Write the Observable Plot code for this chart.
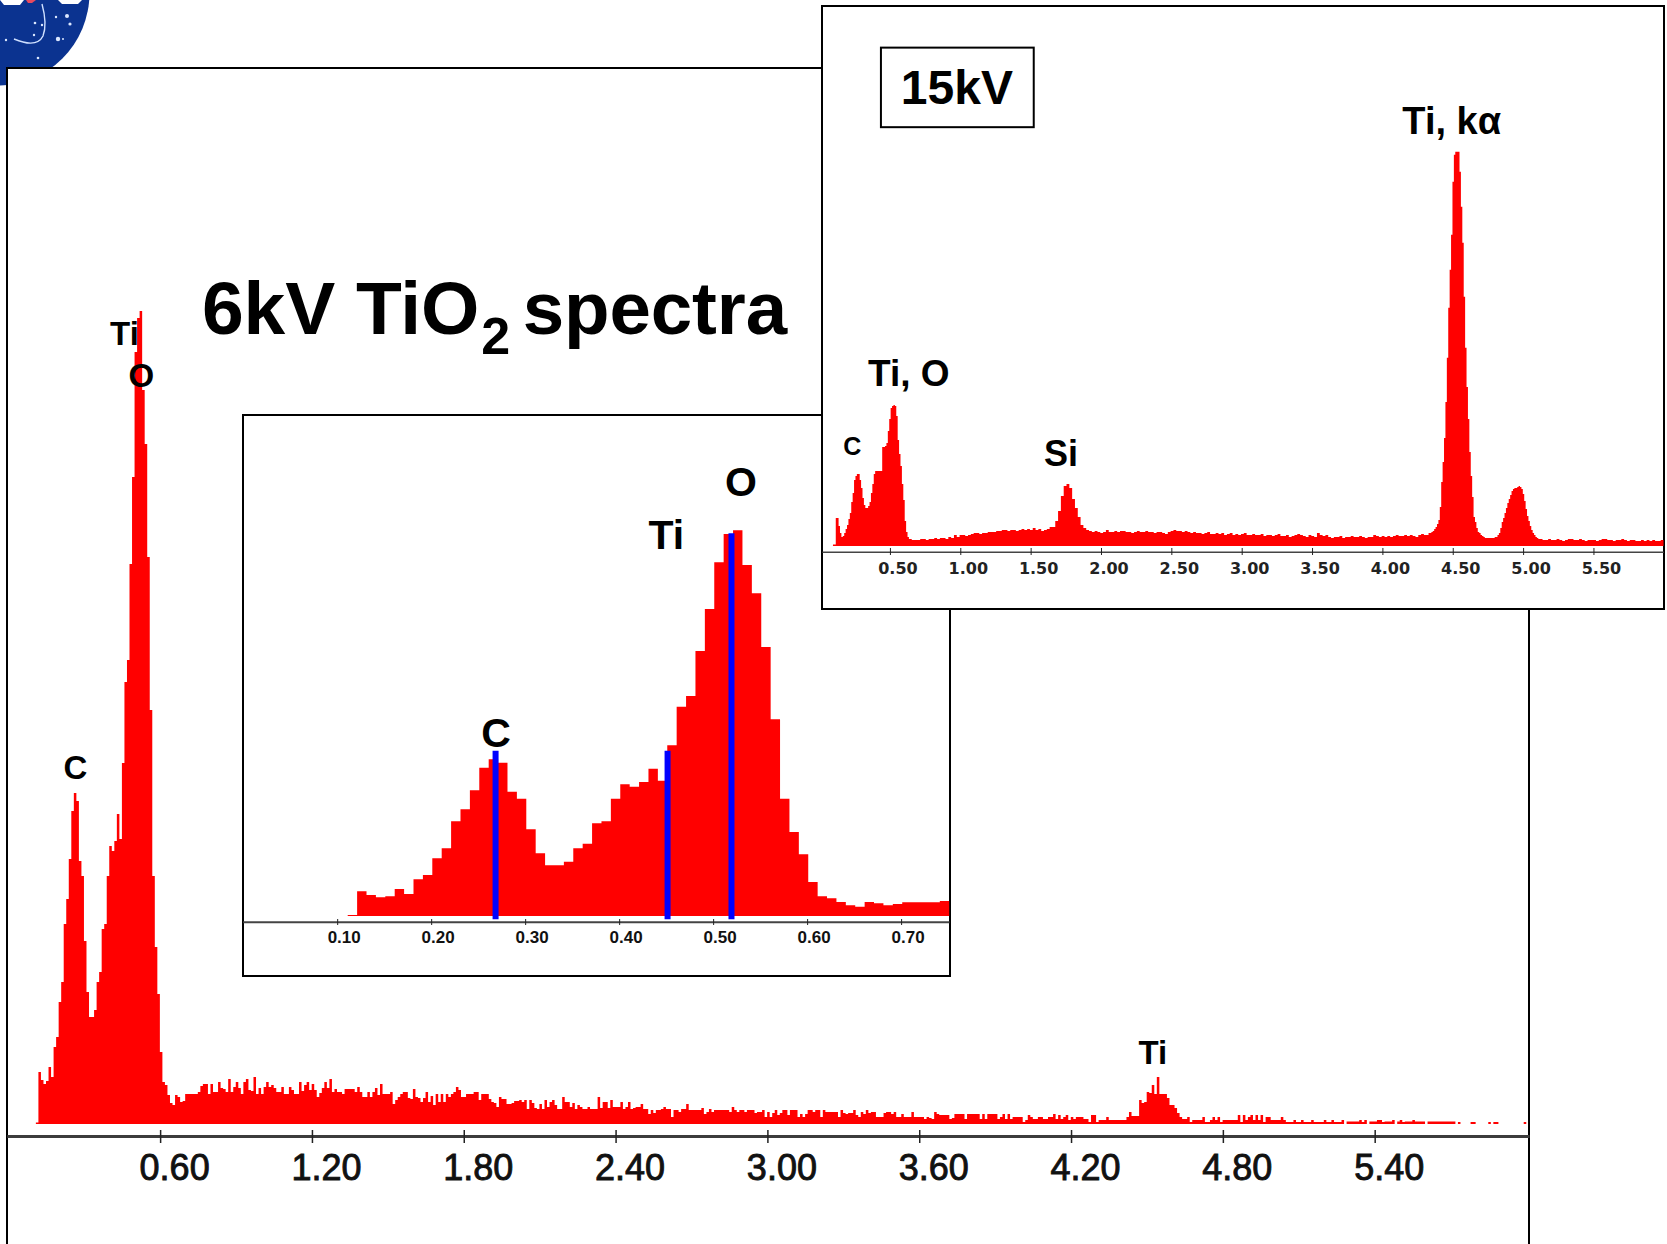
<!DOCTYPE html>
<html>
<head>
<meta charset="utf-8">
<script src="https://cdn.jsdelivr.net/npm/d3@7"></script>
<script src="https://cdn.jsdelivr.net/npm/@observablehq/plot@0.6"></script>
<style>
html,body{margin:0;padding:0;background:#fff;overflow:hidden;width:1667px;height:1244px;font-family:"Liberation Sans",Arial,sans-serif}
.abs{position:absolute;box-sizing:border-box}
svg{position:absolute}
#title{position:absolute;left:202px;top:271px;font:bold 75px/1 "Liberation Sans",sans-serif;color:#000;white-space:pre;letter-spacing:-0.1px}
#title sub{font-size:52px;line-height:0;vertical-align:-20px;margin-left:2px}
#title span{margin-left:-8px;font-size:74.5px}
.mainplot [aria-label="x-axis tick label"] text{stroke:#111;stroke-width:0.9px}
</style>
</head>
<body>
<svg id="logo" width="100" height="95" style="left:0;top:0">
  <circle cx="-3" cy="-7" r="92.5" fill="#0b3390"/>
  <path d="M0 0H24L20 5H4Z M58 0H82L78 4H62Z" fill="#fff"/>
  <path d="M26 0H36L32 3H28Z" fill="#e84a5f"/>
  <path d="M14 39C26 44 38 46 43 36C46 28 45 15 42 4" fill="none" stroke="#cfe0ff" stroke-width="1.4"/>
  <g fill="#dce8ff"><circle cx="67" cy="16" r="2"/><circle cx="70" cy="24" r="1.6"/><circle cx="58" cy="39" r="2.2"/><circle cx="35" cy="23" r="1.3"/><circle cx="42" cy="25" r="1.2"/><circle cx="56" cy="17" r="1.2"/><circle cx="34" cy="35" r="1.2"/><circle cx="38" cy="58" r="1.3"/><circle cx="6" cy="40" r="1.2"/><circle cx="63" cy="39" r="1"/></g>
</svg>
<div id="title"></div>
<script>
// ---------- 6 kV spectrum: counts per 10 eV channel ----------
const mainStartKeV = 0.109, mainChannelKeV = 0.01;
const mainPeaks = [1.5,52,44,40,43,57,47,77,87,122,142,200,225,265,313,331,323,263,248,183,132,107,107,114,142,152,195,200,248,278,273,283,310,285,361,442,464,560,647,772,806,813,734,680,567,414,248,177,130,72,42,39,29,21,19,29,27,22,23,30];
const mainBackgroundA = [30,30,30,30,32,38,40,40,30,40,32,32,42,36,35,32,45,32,37,42,36,30,42,45,34,33,47,30,36,30,37,42,37,39,36,32,32,37,30,30,37,34,30,30,42,33,39,42,34,40,34,27,31,36,42,36,45,32,35,32,32,30,35,35,35,35,32,37,32,27,27,32,27,32,36,29,40,30,30,30,32,20,24,27,30,32,32,26,25,35,27,26,22,26,32,22,28,19,30,22,30,22,30,27,30,32,37,34,27,27,30,30,30,32,32,24,30,30,30,25,22,21,17,27,25,25,20,20,21,23,23,24,22,24,15,24,21,16,15,20,15,24,17,22,24,19,15,15,27,22,22,17,21,15,19,17,15,15,17,15,15,15,27,16,22,22,16,24,17,17,17,22,15,17,22,15,16,17,17,20,15,15,10,14,11,14,14];
const mainBackgroundB = [15,17,15,15,7,14,14,12,15,15,20,14,14,14,14,14,16,10,12,15,12,14,14,14,14,14,14,12,17,14,12,14,14,12,14,14,14,11,12,12,14,7,12,7,11,14,9,11,14,14,9,14,14,14,7,10,7,10,14,14,12,14,14,7,14,12,12,12,12,12,7,14,11,10,11,11,14,9,7,12,10,14,11,12,12,7,7,7,11,12,12,10,12,7,7,10,7,7,7,12,7,7,7,7,5,7,6,5,12,10,9,9,9,9,5,6,10,10,10,10,5,10,10,10,10,10,5,10,5,10,10,10,10,5,7,10,5,10,5,7,7,7,7,2,4,9,7,5,5,7,7,5,5,7,7,10,5,9,5,7,9,4,7,5,7,7,7,5,5,2,9,9,2,4,4,4,7,4,4,4,4,4,4,4,7,12,8,8,8,24,21,22,32,31,39,30,47];
const mainTiTail = [30,30,30,26,19,19,16,11,7,5,5,7,2,4,4,4,4,7,2,2,4,7,4,7,2,4,4,4,4,4,4,9,2,9,4,7,9,4,9,4,9,2,7,7,4,4,4,4,7,4,2,2,2,4,2,2,4,2,2,2,4,2,2,2,2,4,2,2,4,2,2,2,4,0,2.5,2.5,2.5,2.5,2.5,4,2,4,0,2.5,2.5,2.5,4,4,2,2.5,2.5,2.5,4,0,2.5,4,2,2.5,2.5,2.5,4,2.5,2.5,2.5,2.5,0,2.5,2.5,2.5,2.5,2.5,2.5,2.5,2.5,2.5,2.5,2.5,0,2,0,0,0,0,2,2,0,0,0,0,0,2,0,2,2,0,0,0,0,0,0,0,0,0,0,2,0];
const mainTicks = [0.6,1.2,1.8,2.4,3.0,3.6,4.2,4.8,5.4];

// ---------- inset: O/Ti/C region at 10 eV per bar ----------
const insetStartKeV = 0.1112, insetChannelKeV = 0.01;
const insetCounts = [1,24.7,21,18.7,19.7,27,22,36.7,41,57.7,67.7,94.7,106.7,125.7,148.3,156.7,153.3,124.3,117.3,86.7,62.7,50.7,50.7,54.3,67.7,72.3,92.7,94.7,117.3,131.7,129.3,134,147.3,135.3,170.7,209.3,220,265,307,353.7,382,385.7,351,322.7,269,196.7,117.3,84,61.7,34,19.7,17.7,14,10.7,9.3,14,12.7,10.7,12,13.7,13.7,13.7,13.7,15,15];
const insetTicks = [0.1,0.2,0.3,0.4,0.5,0.6,0.7];
const insetLineKeV = [0.268,0.451,0.519];
const insetLineTop = [165.3,165.3,382.7];

// ---------- 15 kV spectrum ----------
const kv15LowStart = 0.095, kv15LowStep = 0.01;
const kv15Low = [1.5,1.5,28,28,20,13,9,10,13,17,21,27,33,44,53,66,70,72,72,66,58,48,41,38,38,40,44,53,62,72,75,75,75,75,75,99,99,100,103,115,127,138,140,141,140,130,106,92,80,62,46,25,14,9,7,7,6,6,6,6,6,6];
const kv15MidStart = 0.715, kv15MidStep = 0.02;
const kv15Mid = [7,7,6,7,7,8,7,8,8,7, 9,8,11,9,11,11,10,11,12,13, 13,12,13,13,14,14,14,15,15,16, 16,15,16,16,15,16,17,16,17,16,
 18,16,17,15,16,17,19,19,25,35,50,60,62,58,47,38,29,21,18,16,
 15,14,15,14,13,14,16,14,14,15,14,15,15,14,14,13,14,15,14,14,
 15,14,14,13,14,14,13,12,14,15,16,15,15,14,15,14,13,14,13,13,
 12,13,14,12,12,13,12,13,11,12,13,11,12,11,12,13,11,11,12,11,
 11,12,10,11,11,10,11,12,10,10,11,9,10,11,12,11,10,9,11,10,
 9,13,11,10,11,9,8,9,9,10,8,9,9,10,9,9,10,9,8,9,
 9,11,10,9,10,9,10,9,10,11,10,10,11,10,11,10,9,11,12,11];
const kv15PeakStart = 4.318, kv15PeakStep = 0.01;
const kv15Peak = [11,13,13,14,15,17,19,22,26,39,64,84,108,144,188,238,276,311,364,391,394,394,394,374,339,303,249,198,159,127,94,70,49,29,24,18,14,13,11,10,9,8,8,8,8,8,8,8,9,9,11,13,18,24,28,33,38,43,47,51,55,57,58,58,59,60,59,57,52,45,37,30,25,20,16,13,11,9,8,7];
const kv15HighStart = 5.118, kv15HighStep = 0.02;
const kv15High = [7,6,6,7,6,6,7,6,5,6,7,7,6,6,7,6,5,6,6,6,5,6,7,7,6,6,5,6,6,7,6,5,6,6,5,5,6,5,6,5,6,5,5,6,6];
const kv15Ticks = [0.5,1,1.5,2,2.5,3,3.5,4,4.5,5,5.5];

// ---------- annotations ----------
const mainLabels = [
  {t:"C",keV:0.263,c:356},{t:"Ti",keV:0.457,c:790},{t:"O",keV:0.524,c:748},{t:"Ti",keV:4.521,c:71}];
const insetLabels = [
  {t:"C",keV:0.2686,c:183},{t:"Ti",keV:0.4497,c:381},{t:"O",keV:0.529,c:434}];
const kv15Labels = [
  {t:"Ti, kα",keV:4.489,c:424,s:38},{t:"Ti, O",keV:0.63,c:172,s:37},{t:"C",keV:0.228,c:99,s:25},
  {t:"Si",keV:1.712,c:91.5,s:36},{t:"15kV",keV:0.972,c:457.5,s:48}];

const series = (vals,e0,step)=>vals.map((v,i)=>({keV:e0+i*step,counts:v}));
const fixed = d=>d.toFixed(2);
const font = '"Liberation Sans",Arial,sans-serif';

function place(el,x,y){el.style.left=x+"px";el.style.top=y+"px";el.style.background="transparent";document.body.appendChild(el);}
function frame(x,y,w,h,bottom=true){
  const d=document.createElement("div");d.className="abs";
  d.style.cssText+=`left:${x}px;top:${y}px;width:${w}px;height:${h}px;background:#fff;border:2px solid #000;${bottom?"":"border-bottom:none;"}`;
  document.body.appendChild(d);
}
document.getElementById("title").innerHTML='6kV TiO<sub>2</sub><span> spectra</span>';
const titleEl=document.getElementById("title");

// ---- main panel ----
frame(6,67,1524,1190,false);
const mainData=series([...mainPeaks,...mainBackgroundA,...mainBackgroundB,...mainTiTail],mainStartKeV,mainChannelKeV);
place(Plot.plot({
  className:"mainplot",
  width:1524,height:1177,
  marginLeft:2.3,marginRight:3.5,marginTop:244,marginBottom:108,
  x:{domain:[0,6],axis:null},
  y:{domain:[-12,813],axis:null},
  style:{overflow:"visible"},
  marks:[
    Plot.areaY(mainData,{x:"keV",y:"counts",curve:"step-after",fill:"#ff0000"}),
    Plot.ruleY([-12],{x1:-0.004,x2:6.012,stroke:"#3c3c3c",strokeWidth:3}),
    Plot.ruleX(mainTicks,{y1:-6,y2:-19,stroke:"#222",strokeWidth:1.5}),
    Plot.axisX({anchor:"bottom",ticks:mainTicks,tickSize:0,tickPadding:18,tickFormat:fixed,label:null,fontSize:36,fontWeight:"normal",fontFamily:font,fill:"#111",dx:14,line:false}),
    Plot.text(mainLabels,{x:"keV",y:"c",text:"t",fontSize:33,fontWeight:"bold",fontFamily:font,fill:"#000",lineAnchor:"middle"})
  ]
}),6,67);
document.body.appendChild(titleEl);

// ---- inset ----
frame(242,414,709,563);
const insetData=series(insetCounts,insetStartKeV,insetChannelKeV);
const insetLines=insetLineKeV.map((k,i)=>({k,top:insetLineTop[i]}));
place(Plot.plot({
  width:709,height:562,
  marginLeft:1.2,marginRight:1.5,marginTop:116.3,marginBottom:54.3,
  x:{domain:[0,0.7515],axis:null},
  y:{domain:[-5.7,385.7],axis:null},
  style:{overflow:"visible"},
  marks:[
    Plot.areaY(insetData,{x:"keV",y:"counts",curve:"step-after",fill:"#ff0000"}),
    Plot.ruleY([-5.7],{stroke:"#444",strokeWidth:2}),
    Plot.ruleX(insetTicks,{y1:-3,y2:-9,stroke:"#222",strokeWidth:1}),
    Plot.axisX({anchor:"bottom",ticks:insetTicks,tickSize:0,tickPadding:9,tickFormat:fixed,label:null,fontSize:17,fontWeight:"bold",fontFamily:font,fill:"#111",dx:6.5,line:false}),
    Plot.ruleX(insetLines,{x:"k",y1:-3.3,y2:"top",stroke:"#0000ff",strokeWidth:6}),
    Plot.text(insetLabels,{x:"keV",y:"c",text:"t",fontSize:41,fontWeight:"bold",fontFamily:font,fill:"#000",lineAnchor:"middle"})
  ]
}),242,414);

// ---- 15 kV panel ----
frame(821,5,844,605);
const kv15Data=[...series(kv15Low,kv15LowStart,kv15LowStep),...series(kv15Mid,kv15MidStart,kv15MidStep),...series(kv15Peak,kv15PeakStart,kv15PeakStep),...series(kv15High,kv15HighStart,kv15HighStep)];
const box=[{x1:0.436,x2:1.522,y1:418.5,y2:498}];
place(Plot.plot({
  width:843,height:604,
  marginLeft:1.4,marginRight:0.2,marginTop:145.7,marginBottom:58.3,
  x:{domain:[0.02,6],axis:null},
  y:{domain:[-5.7,394],axis:null},
  style:{overflow:"visible"},
  marks:[
    Plot.areaY(kv15Data,{x:"keV",y:"counts",curve:"step-after",fill:"#ff0000"}),
    Plot.ruleY([-5.7],{stroke:"#444",strokeWidth:1.5}),
    Plot.ruleX(kv15Ticks,{y1:-2,y2:-9,stroke:"#222",strokeWidth:1}),
    Plot.axisX({anchor:"bottom",ticks:kv15Ticks,tickSize:0,tickPadding:10,tickFormat:fixed,label:null,fontSize:16,fontWeight:"bold",fontFamily:'"DejaVu Sans",sans-serif',fill:"#222",dx:7.5,line:false}),
    Plot.rect(box,{x1:"x1",x2:"x2",y1:"y1",y2:"y2",fill:"none",stroke:"#000",strokeWidth:2}),
    Plot.text(kv15Labels,{x:"keV",y:"c",text:"t",fontSize:"s",fontWeight:"bold",fontFamily:font,fill:"#000",lineAnchor:"middle"})
  ]
}),821,6);
</script>
</body>
</html>
